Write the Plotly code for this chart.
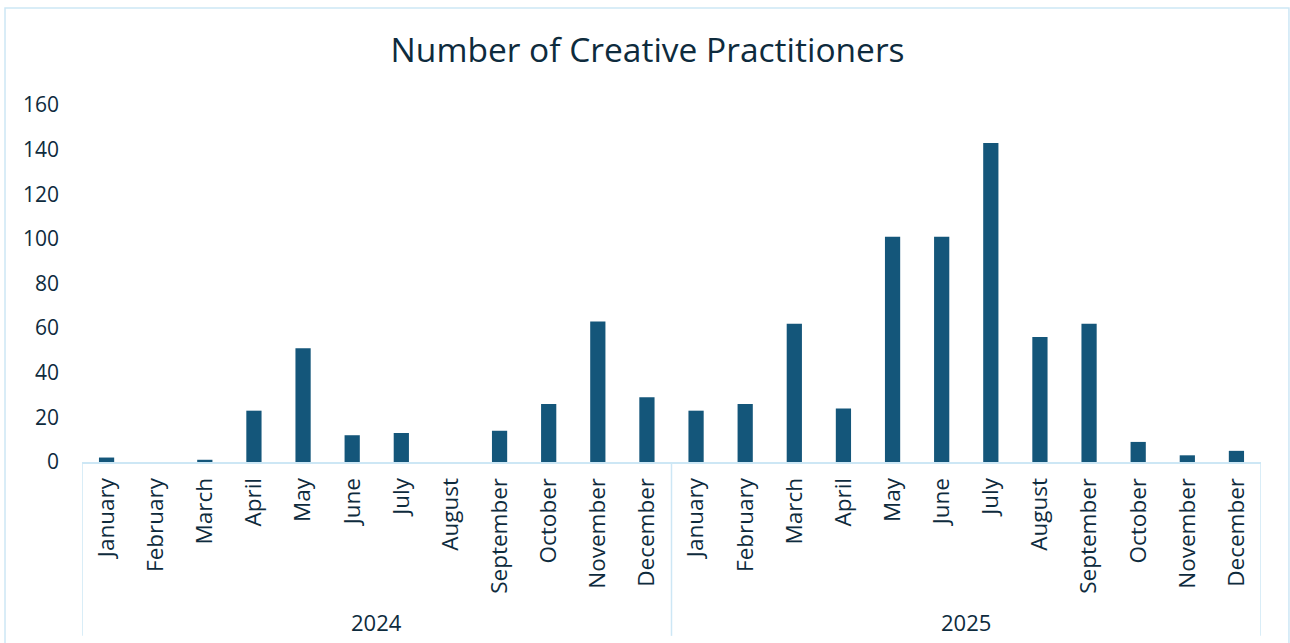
import plotly.graph_objects as go

# Monthly counts of creative practitioners, 2024–2025
months = ["January", "February", "March", "April", "May", "June", "July",
          "August", "September", "October", "November", "December"]
years = ["2024", "2025"]
practitioners_2024 = [2, 0, 1, 23, 51, 12, 13, 0, 14, 26, 63, 29]
practitioners_2025 = [23, 26, 62, 24, 101, 101, 143, 56, 62, 9, 3, 5]
y_ticks = [0, 20, 40, 60, 80, 100, 120, 140, 160]

values = practitioners_2024 + practitioners_2025
labels = months + months
positions = list(range(len(values)))

BAR = "#14567A"
TEXT = "#0E2B3D"
LINE = "#CDE7F5"
FONT = "Open Sans"

fig = go.Figure(go.Bar(
    x=positions,
    y=values,
    marker=dict(color=BAR, line=dict(width=0)),
    width=0.31,
    hoverinfo="y",
))

n_per_year = len(months)
shapes = []
# group dividers below the category axis
for b in [-0.5, n_per_year - 0.5, 2 * n_per_year - 0.5]:
    shapes.append(dict(type="line", xref="x", yref="paper",
                       x0=b, x1=b, y0=0, y1=-0.487,
                       line=dict(color=LINE, width=1.5)))
# outer frame of the chart
shapes.append(dict(type="rect", xref="paper", yref="paper",
                   x0=-0.0653, x1=1.0237, y0=-0.6, y1=1.2717,
                   line=dict(color=LINE, width=1.5), layer="below"))

annotations = []
for i, yr in enumerate(years):
    annotations.append(dict(
        x=i * n_per_year + (n_per_year - 1) / 2, xref="x",
        y=-0.448, yref="paper", yanchor="middle",
        text=yr, showarrow=False,
        font=dict(family=FONT, size=22, color=TEXT)))

fig.update_layout(
    width=1290, height=643,
    margin=dict(l=82, r=29, t=105, b=181),
    paper_bgcolor="white", plot_bgcolor="white",
    title=dict(text="Number of Creative Practitioners",
               x=0.502, xanchor="center", y=1 - 50 / 643, yanchor="middle",
               font=dict(family=FONT, size=33.5, color=TEXT)),
    font=dict(family=FONT, color=TEXT),
    showlegend=False,
    bargap=0.69,
    shapes=shapes,
    annotations=annotations,
    xaxis=dict(
        range=[-0.5, 2 * n_per_year - 0.5],
        tickmode="array", tickvals=positions, ticktext=labels,
        tickangle=-90, tickfont=dict(family=FONT, size=22.5, color=TEXT),
        showgrid=False, zeroline=False,
        showline=True, linecolor=LINE, linewidth=2,
        ticks="", ticklabelstandoff=5,
    ),
    yaxis=dict(
        range=[0, 160],
        tickmode="array", tickvals=y_ticks,
        tickfont=dict(family=FONT, size=21, color=TEXT),
        showgrid=False, zeroline=False, showline=False,
        ticks="", ticklabelstandoff=22,
    ),
)

fig.write_html("out.html")
